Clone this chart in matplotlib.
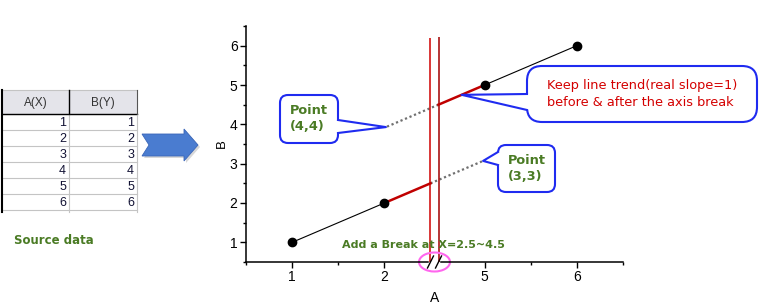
import numpy as np
import matplotlib
matplotlib.use('Agg')
import matplotlib.pyplot as plt
from matplotlib.patches import FancyBboxPatch, Polygon, Ellipse

plt.rcParams['font.family'] = ['Liberation Sans', 'DejaVu Sans']

W, H = 759, 305

# source worksheet
headers = ['A(X)', 'B(Y)']
col_a = [1, 2, 3, 4, 5, 6]
col_b = [1, 2, 3, 4, 5, 6]

# axis break settings
break_from, break_to = 2.5, 4.5
gap = 0.087          # width of the break, in axis units
trend_ext = 0.57     # how far the dotted "virtual" trend runs past the break

# line pieces next to the break (real slope = 1)
red_left_x, red_left_y = [2, 2.5], [2, 2.5]
red_right_x, red_right_y = [4.5, 5], [4.5, 5]

green = '#4a7b24'
blue = '#1f2bf0'
red = '#d40000'


def fwd(x):
    x = np.asarray(x, dtype=float)
    mid = break_from + (x - break_from) * gap / (break_to - break_from)
    return np.where(x <= break_from, x, np.where(x >= break_to, x - (break_to - break_from) + gap, mid))


def inv(t):
    t = np.asarray(t, dtype=float)
    mid = break_from + (t - break_from) * (break_to - break_from) / gap
    return np.where(t <= break_from, t, np.where(t >= break_from + gap, t + (break_to - break_from) - gap, mid))


fig = plt.figure(figsize=(W / 100, H / 100), dpi=100)
ax = fig.add_axes([246 / W, 1 - 262 / H, 377 / W, 236 / H])
ax.set_xscale('function', functions=(fwd, inv))
ax.set_xlim(0.5, 6.5)
ax.set_ylim(0.5, 6.5)

xs = np.array(col_a, dtype=float)
ys = np.array(col_b, dtype=float)
left = xs < break_from
right = xs > break_to

ax.plot(xs[left], ys[left], color='black', lw=0.8, zorder=3)
ax.plot(xs[right], ys[right], color='black', lw=0.8, zorder=3)
ax.plot(red_left_x, red_left_y, color='#c00000', lw=1.8, zorder=3)
ax.plot(red_right_x, red_right_y, color='#c00000', lw=1.8, zorder=3)
ax.plot(xs[left | right], ys[left | right], 'o', color='black', ms=6, zorder=4)

# dotted trend continuing through the break, in unbroken units
lo_end_x = inv(fwd(break_from) + trend_ext)
hi_end_x = inv(fwd(break_to) - trend_ext)
ax.plot([break_from, lo_end_x], [break_from, break_from + trend_ext],
        color='#707070', lw=1.6, ls=(0, (1, 1.2)), zorder=2)
ax.plot([break_to, hi_end_x], [break_to, break_to - trend_ext],
        color='#707070', lw=1.6, ls=(0, (1, 1.2)), zorder=2)

# break lines
ax.vlines(break_from, 0.5, 6.2, color='#d00000', lw=1.1, zorder=2)
ax.vlines(break_to, 0.5, 6.22, color='#a00000', lw=1.1, zorder=2)

ax.set_xticks([1, 2, 5, 6])
ax.set_xticks([0.5, 1.5, 5.5, 6.5], minor=True)
ax.set_yticks(range(1, 7))
ax.set_yticks(np.arange(0.5, 7, 1), minor=True)
for s in ['top', 'right', 'bottom']:
    ax.spines[s].set_visible(False)
ax.spines['left'].set_linewidth(1.1)
ax.tick_params(which='major', length=4.3, width=1, direction='out', labelsize=10, pad=1.8)
ax.tick_params(which='minor', length=2.5, width=1, direction='out')
ax.set_xlabel('A', fontsize=10, labelpad=4.5)
ax.set_ylabel('B', fontsize=9.5, labelpad=1)
ax.patch.set_visible(False)


def to_px(x, y):
    dx, dy = ax.transData.transform((x, y))
    return dx, H - dy


# overlay in image pixels for the drawing aids
ov = fig.add_axes([0, 0, 1, 1], zorder=5)
ov.set_xlim(0, W)
ov.set_ylim(H, 0)
ov.axis('off')
ov.patch.set_visible(False)

# broken x axis line with break marks
x_l, y_axis = to_px(0.5, 0.5)
x_b1, _ = to_px(break_from, 0.5)
x_b2, _ = to_px(break_to, 0.5)
x_r, _ = to_px(6.5, 0.5)
ov.plot([x_l, x_b1 - 2.5], [y_axis, y_axis], color='black', lw=1.1)
ov.plot([x_b2 + 2.5, x_r], [y_axis, y_axis], color='black', lw=1.1)
for xb in (x_b1, x_b2):
    ov.plot([xb - 3, xb + 3], [y_axis + 6, y_axis - 6], color='black', lw=1)
ov.add_patch(Ellipse(((x_b1 + x_b2) / 2, y_axis), 31, 19, fill=False, ec='#ff66ee', lw=1.5))
ov.text(423, 245, 'Add a Break at X=2.5~4.5', color=green, fontsize=8, fontweight='bold',
        family='DejaVu Sans', ha='center', va='center')


def callout(x0, y0, x1, y1, base, tip, r, text, color, bold):
    ov.add_patch(FancyBboxPatch((x0, y0), x1 - x0, y1 - y0,
                                boxstyle=f'round,pad=0,rounding_size={r}',
                                fc='white', ec=blue, lw=1.5))
    (bx0, by0), (bx1, by1) = base
    side = 1 if abs(bx0 - x0) < 1 else -1
    ov.add_patch(Polygon([(bx0 + 3 * side, by0), (bx0, by0), tip, (bx1, by1), (bx1 + 3 * side, by1)],
                         closed=True, fc='white', ec='none'))
    ov.plot([bx0, tip[0], bx1], [by0, tip[1], by1], color=blue, lw=1.5)
    ov.text((x0 + x1) / 2, (y0 + y1) / 2, text, color=color, fontsize=9.3 if not bold else 9.3,
            fontweight='bold' if bold else 'normal', family='DejaVu Sans',
            ha='center', va='center', multialignment='left', linespacing=1.3)


tip1 = to_px(hi_end_x, break_to - trend_ext)
callout(280, 95, 338, 143, [(338, 120), (338, 133)], tip1, 8, 'Point\n(4,4)', green, True)
tip2 = to_px(lo_end_x, break_from + trend_ext)
callout(498, 145, 555, 192, [(498, 152), (498, 165)], tip2, 8, 'Point\n(3,3)', green, True)
tip3 = to_px(4.75, 4.75)
callout(527, 66, 757, 122, [(527, 94), (527, 110)], tip3, 15,
        'Keep line trend(real slope=1)\nbefore & after the axis break', red, False)

# source data table
col_edges = [2, 69, 137]
head_top, head_bot = 90, 114
row_h = 16
ov.add_patch(plt.Rectangle((col_edges[0], head_top), col_edges[2] - col_edges[0], head_bot - head_top,
                           fc='#e4e4ea', ec='none'))
n_rows = len(col_a)
bottom = head_bot + row_h * n_rows + 2
for i in range(n_rows + 1):
    yy = head_bot + row_h * i
    ov.plot([col_edges[0], col_edges[2]], [yy, yy], color='#c4c4c4', lw=0.8)
ov.plot([col_edges[0], col_edges[2]], [head_bot, head_bot], color='black', lw=1)
ov.plot([col_edges[0], col_edges[2]], [head_top, head_top], color='#c4c4c4', lw=0.8)
ov.plot([col_edges[1], col_edges[1]], [head_bot, bottom], color='#c4c4c4', lw=0.8)
ov.plot([col_edges[2], col_edges[2]], [head_bot, bottom], color='#c4c4c4', lw=0.8)
ov.plot([col_edges[1], col_edges[1]], [head_top, head_bot], color='black', lw=1)
ov.plot([col_edges[2], col_edges[2]], [head_top, head_bot], color='#555555', lw=0.8)
ov.plot([col_edges[0], col_edges[0]], [head_top, bottom], color='black', lw=1.5)
for j, h in enumerate(headers):
    ov.text((col_edges[j] + col_edges[j + 1]) / 2, (head_top + head_bot) / 2 + 1, h,
            fontsize=8.5, color='#333333', ha='center', va='center')
for i in range(n_rows):
    yc = head_bot + row_h * i + row_h / 2 + 1
    ov.text(col_edges[1] - 3, yc, str(col_a[i]), fontsize=9, color='#111133', ha='right', va='center')
    ov.text(col_edges[2] - 3, yc, str(col_b[i]), fontsize=9, color='#111133', ha='right', va='center')
ov.text(14, 240, 'Source data', color=green, fontsize=8.5, fontweight='bold',
        family='DejaVu Sans', ha='left', va='center')

# block arrow
arrow_pts = [(142, 134), (184, 134), (184, 129), (198, 145), (184, 161), (184, 156), (142, 156), (149, 145)]
ov.add_patch(Polygon([(px + 2, py + 2) for px, py in arrow_pts], closed=True, fc='#d8d8d8', ec='none'))
ov.add_patch(Polygon(arrow_pts, closed=True, fc='#4a7cd0', ec='#3a66b8', lw=0.6))

fig.savefig('out.png', dpi=100)
